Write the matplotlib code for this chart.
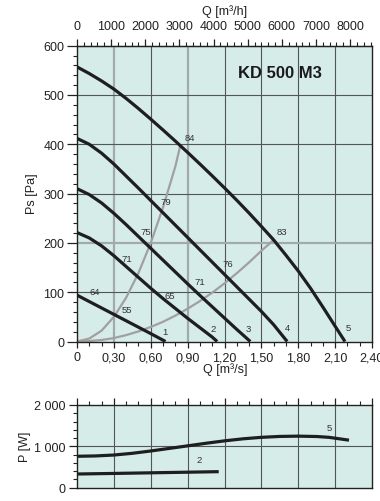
import matplotlib
matplotlib.use("Agg")
import matplotlib.pyplot as plt
import numpy as np
from matplotlib.ticker import MultipleLocator

plt.rcParams['font.family'] = ['Liberation Sans', 'DejaVu Sans']

# ---- data ----
title = "KD 500 M3"
q5 = [0, 0.1, 0.2, 0.3, 0.4, 0.5, 0.6, 0.7, 0.8, 0.9, 1.0, 1.1, 1.2, 1.3, 1.4, 1.5, 1.6, 1.7, 1.8, 1.9, 2.0, 2.1, 2.18]
ps5 = [557, 543.5, 528.5, 512, 493, 472.5, 451, 429, 406.5, 383.5, 360, 336, 311.5, 286.5, 260.5, 233.5, 206, 175, 143, 108, 70, 31, 0]
q4 = [0, 0.1, 0.2, 0.3, 0.4, 0.5, 0.6, 0.7, 0.8, 0.9, 1.0, 1.1, 1.2, 1.3, 1.4, 1.5, 1.6, 1.71]
ps4 = [412, 400, 382, 360, 335.5, 311, 286, 261, 236, 211, 186, 161, 136, 111, 86, 61, 34, 0]
q3 = [0, 0.1, 0.2, 0.3, 0.4, 0.5, 0.6, 0.7, 0.8, 0.9, 1.0, 1.1, 1.2, 1.3, 1.41]
ps3 = [310, 298, 281, 260, 237, 213, 189, 165, 141, 117, 93.5, 70.5, 47.5, 24.5, 0]
q2 = [0, 0.1, 0.2, 0.3, 0.4, 0.5, 0.6, 0.7, 0.8, 0.9, 1.0, 1.1, 1.14]
ps2 = [221, 210, 194, 174, 152, 130, 108, 87, 67, 47, 28, 9, 0]
q1 = [0, 0.1, 0.2, 0.3, 0.4, 0.5, 0.6, 0.72]
ps1 = [94, 81, 68, 55, 42, 29, 16, 0]
curve_names = ["1", "2", "3", "4", "5"]

sys_left_q = [0, 0.1, 0.2, 0.3, 0.4, 0.5, 0.6, 0.7, 0.8, 0.84]
sys_left_ps = [0, 6, 22, 50, 89, 139, 200, 272, 355, 397]
sys_right_q = [0, 0.1, 0.2, 0.3, 0.4, 0.5, 0.6, 0.7, 0.8, 0.9, 1.0, 1.1, 1.2, 1.3, 1.4, 1.5, 1.6]
sys_right_ps = [0, 1, 3, 7, 13, 20.5, 29.5, 40, 52.5, 66.5, 82, 99, 118, 138.5, 160.5, 184, 206]

noise_labels = ["84", "83", "79", "75", "71", "76", "71", "65", "64", "55"]
noise_q = [0.92, 1.668, 0.725, 0.56, 0.405, 1.225, 0.997, 0.752, 0.141, 0.405]
noise_ps = [413, 223, 284, 223, 169, 159, 121, 94, 102, 64]

curve_label_q = [0.717, 1.106, 1.396, 1.709, 2.211]
curve_label_ps = [20, 27, 27, 29, 29]

qp5 = [0, 0.15, 0.30, 0.45, 0.60, 0.75, 0.90, 1.05, 1.20, 1.35, 1.50, 1.65, 1.80, 1.95, 2.05, 2.20]
p5 = [760, 768, 790, 832, 888, 950, 1012, 1075, 1133, 1182, 1218, 1240, 1247, 1238, 1218, 1155]
qp2 = [0, 0.30, 0.60, 0.90, 1.14]
p2 = [331, 345, 360, 375, 387]

x_ticks = [0, 0.3, 0.6, 0.9, 1.2, 1.5, 1.8, 2.1, 2.4]
x_ticklabels = ["0", "0,30", "0,60", "0,90", "1,20", "1,50", "1,80", "2,10", "2,40"]
top_ticks = [0, 1000, 2000, 3000, 4000, 5000, 6000, 7000, 8000]
y_ticks = [0, 100, 200, 300, 400, 500, 600]
p_ticks = [0, 1000, 2000]
p_ticklabels = ["0", "1 000", "2 000"]

# ---- styling ----
BG = '#d6ece9'
DARK = '#4f5856'
LIGHT = '#a3abaa'
CURVE = '#1e1e1e'
GRAY = '#a0a0a0'
TXT = '#333333'
INK = '#222222'

W, H = 380, 502
fig = plt.figure(figsize=(W / 100, H / 100), dpi=100)

def fx(px):
    return px / W

def fy(py):
    return 1 - py / H

ax = fig.add_axes([fx(77), fy(342.5), fx(372) - fx(77), fy(46.7) - fy(342.5)])
ax.set_facecolor(BG)
ax.set_xlim(0, 2.4)
ax.set_ylim(0, 600)

# grid
for xv in x_ticks[1:-1]:
    light = xv in (0.3, 0.9)
    ax.axvline(xv, color=LIGHT if light else DARK, lw=1.6 if light else 0.8, zorder=1)
for yv in y_ticks[1:-1]:
    light = yv == 200
    ax.axhline(yv, color=LIGHT if light else DARK, lw=1.6 if light else 0.8, zorder=1)

# system curves
ax.plot(sys_left_q, sys_left_ps, color=GRAY, lw=1.6, zorder=2, solid_joinstyle='round')
ax.plot(sys_right_q, sys_right_ps, color=GRAY, lw=1.6, zorder=2, solid_joinstyle='round')

# fan curves
for qq, pp in [(q1, ps1), (q2, ps2), (q3, ps3), (q4, ps4), (q5, ps5)]:
    ax.plot(qq, pp, color=CURVE, lw=2.3, zorder=3, solid_joinstyle='round', solid_capstyle='butt')

for t, qv, pv in zip(noise_labels, noise_q, noise_ps):
    ax.text(qv, pv, t, fontsize=6.8, color=TXT, ha='center', va='center', zorder=4)
for t, qv, pv in zip(curve_names, curve_label_q, curve_label_ps):
    ax.text(qv, pv, t, fontsize=6.8, color=TXT, ha='center', va='center', zorder=4)

ax.text(1.655, 546, title, fontsize=12, fontweight='bold', color='#1a1a1a',
        ha='center', va='center', zorder=4)

ax.set_xticks(x_ticks)
ax.set_xticklabels(x_ticklabels)
ax.xaxis.set_minor_locator(MultipleLocator(0.1))
ax.set_yticks(y_ticks)
ax.yaxis.set_minor_locator(MultipleLocator(20))
ax.tick_params(axis='x', which='major', direction='out', length=4, width=0.9,
               labelsize=9, colors=INK, pad=3)
ax.tick_params(axis='x', which='minor', direction='out', length=3, width=0.8, colors=INK)
ax.tick_params(axis='y', which='major', direction='out', length=7, width=0.9,
               labelsize=9, colors=INK, pad=2)
ax.tick_params(axis='y', which='minor', direction='out', length=3, width=0.8, colors=INK)
for s in ax.spines.values():
    s.set_color(INK)
    s.set_linewidth(1.0)

sec = ax.secondary_xaxis('top', functions=(lambda q: q * 3600, lambda h: h / 3600))
sec.set_xticks(top_ticks)
sec.xaxis.set_minor_locator(MultipleLocator(200))
sec.tick_params(axis='x', which='major', direction='out', length=5, width=0.9,
                labelsize=9, colors=INK, pad=5)
sec.tick_params(axis='x', which='minor', direction='out', length=3, width=0.8, colors=INK)

fig.text(fx(225), fy(12), "Q [m³/h]", fontsize=9, ha='center', va='center', color=INK)
fig.text(fx(225), fy(370), "Q [m³/s]", fontsize=9, ha='center', va='center', color=INK)
fig.text(fx(32), fy(194), "Ps [Pa]", fontsize=9, ha='center', va='center', rotation=90, color=INK)

# ---- lower panel ----
ax2 = fig.add_axes([fx(77), fy(488.7), fx(372) - fx(77), fy(406) - fy(488.7)])
ax2.set_facecolor(BG)
ax2.set_xlim(0, 2.4)
ax2.set_ylim(0, 2000)
for xv in x_ticks[1:-1]:
    ax2.axvline(xv, color=DARK, lw=0.8, zorder=1)
ax2.axhline(1000, color=DARK, lw=0.8, zorder=1)
ax2.plot(qp5, p5, color=CURVE, lw=2.3, zorder=3, solid_joinstyle='round')
ax2.plot(qp2, p2, color=CURVE, lw=2.3, zorder=3, solid_joinstyle='round')
ax2.text(2.05, 1460, "5", fontsize=6.8, color=TXT, ha='center', va='center')
ax2.text(0.997, 694, "2", fontsize=6.8, color=TXT, ha='center', va='center')

ax2.xaxis.set_ticks_position('top')
ax2.set_xticks(x_ticks)
ax2.xaxis.set_minor_locator(MultipleLocator(0.1))
ax2.tick_params(axis='x', which='both', labeltop=False, labelbottom=False)
ax2.tick_params(axis='x', which='major', direction='out', length=5, width=0.9, colors=INK)
ax2.tick_params(axis='x', which='minor', direction='out', length=3, width=0.8, colors=INK)
ax2.set_yticks(p_ticks)
ax2.set_yticklabels(p_ticklabels)
ax2.yaxis.set_minor_locator(MultipleLocator(200))
ax2.tick_params(axis='y', which='major', direction='out', length=6, width=0.9,
                labelsize=9, colors=INK, pad=2)
ax2.tick_params(axis='y', which='minor', direction='out', length=3, width=0.8, colors=INK)
for s in ax2.spines.values():
    s.set_color(INK)
    s.set_linewidth(1.0)

fig.text(fx(25), fy(447), "P [W]", fontsize=9, ha='center', va='center', rotation=90, color=INK)

fig.savefig("out.png", dpi=100)
